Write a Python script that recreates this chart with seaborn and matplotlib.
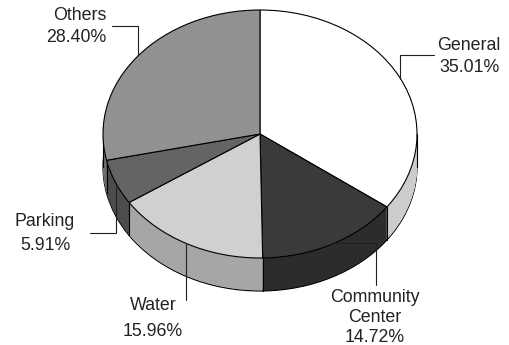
import numpy as np
import matplotlib
matplotlib.use("Agg")
import matplotlib.pyplot as plt
import seaborn as sns

categories = ["General", "Community Center", "Water", "Parking", "Others"]
shares = [35.01, 14.72, 15.96, 5.91, 28.40]
top_colors = ["#ffffff", "#3a3a3a", "#d0d0d0", "#646464", "#919191"]
side_colors = ["#cccccc", "#2c2c2c", "#a6a6a6", "#4c4c4c", "#6e6e6e"]
label_lines = [
    ("General", 469, 46), ("35.01%", 469, 68),
    ("Others", 80, 16), ("28.40%", 76, 38),
    ("Parking", 45, 221), ("5.91%", 45, 246),
    ("Water", 153, 306), ("15.96%", 153, 331),
    ("Community", 375, 298), ("Center", 375, 318), ("14.72%", 375, 337),
]
leaders = [
    ([434, 400.5, 400.5], [55, 55, 79]),
    ([112, 138, 138], [26, 26, 55]),
    ([90, 116, 116], [233, 233, 187]),
    ([186.5, 186.5], [243, 300]),
    ([376, 376, 333], [285, 243, 243]),
]

W, H = 509, 345
CX, CY, RX, RY, DEPTH = 260, 134, 157, 124, 33

sns.set_theme(style="white")
plt.rcParams["font.family"] = ["Liberation Sans", "DejaVu Sans"]

fig = plt.figure(figsize=(W / 100, H / 100), dpi=100, facecolor="white")
ax = fig.add_axes([0, 0, 1, 1])
d = DEPTH / RY
edge = dict(edgecolor="black", linewidth=0.8)

# Side wall: bottom rim first, then stacked layers, then the top face
ax.pie(shares, colors=side_colors, startangle=90, counterclock=False,
       center=(0, -d), wedgeprops=edge)
for off in np.arange(d - 0.006, 0, -0.006):
    ax.pie(shares, colors=side_colors, startangle=90, counterclock=False,
           center=(0, -off), wedgeprops=dict(edgecolor="none", linewidth=0))

# Vertical edges of the wall at slice boundaries and the silhouette
cum = np.cumsum(shares)[:-1] / sum(shares) * 2 * np.pi
for a in cum:
    x, y = np.sin(a), np.cos(a)
    if y < 0.3:
        ax.plot([x, x], [y, y - d], color="black", lw=0.8, zorder=5)
ax.plot([1, 1], [0, -d], color="black", lw=0.8, zorder=5)
ax.plot([-1, -1], [0, -d], color="black", lw=0.8, zorder=5)

ax.pie(shares, colors=top_colors, startangle=90, counterclock=False,
       center=(0, 0), wedgeprops={**edge, "zorder": 6})

ax.set_aspect("auto")
ax.set_xlim(-CX / RX, (W - CX) / RX)
ax.set_ylim((CY - H) / RY, CY / RY)
ax.axis("off")

# Overlay in pixel coordinates for the callouts
ov = fig.add_axes([0, 0, 1, 1], facecolor="none")
ov.set_xlim(0, W)
ov.set_ylim(H, 0)
ov.axis("off")
for xs, ys in leaders:
    ov.plot(xs, ys, color="#202020", lw=0.8, solid_joinstyle="miter")
for txt, x, y in label_lines:
    ov.text(x, y, txt, ha="center", va="center", fontsize=12.8, color="#222222")

fig.savefig("out.png", dpi=100, facecolor="white")
